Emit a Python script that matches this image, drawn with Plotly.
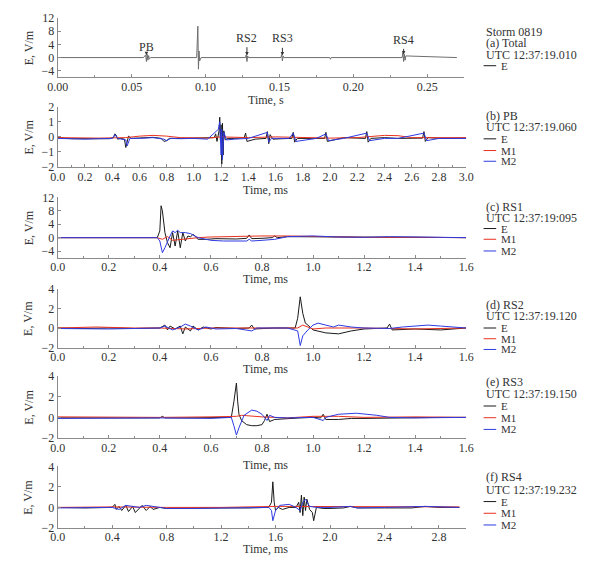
import plotly.graph_objects as go

W, H = 592, 562

# ---------------- DATA ----------------
a_t = [0.0, 0.058, 0.0595, 0.060, 0.0605, 0.061, 0.0615, 0.062, 0.063, 0.094,
       0.0948, 0.0952, 0.0956, 0.096, 0.097, 0.127, 0.1275, 0.128, 0.1285, 0.129,
       0.151, 0.1515, 0.152, 0.1525, 0.153, 0.184, 0.1845, 0.185, 0.233, 0.2335,
       0.234, 0.2345, 0.235, 0.2355, 0.27]
a_E = [0, 0, 0.8, -1.2, 1.0, -0.8, 0.6, -0.4, 0, 0,
       9.5, -3.5, 2, -1, 0, 0, 0.8, -1.2, 0.5, 0,
       0, 0.9, -1.0, 0.5, 0, 0, -0.5, 0, 0, 1.5,
       -1.2, 1.0, -0.8, 0.5, 0]
a_marks = ["PB", "RS1", "RS2", "RS3", "RS4"]
a_mark_t = [0.060, 0.095, 0.128, 0.152, 0.234]

b_tE = [0, 0.05, 0.1, 0.2, 0.3, 0.38, 0.41, 0.42, 0.43, 0.44,
        0.46, 0.49, 0.50, 0.51, 0.52, 0.54, 0.6, 0.7, 0.76, 0.78,
        0.80, 0.82, 0.9, 1.0, 1.1, 1.15, 1.16, 1.17, 1.185, 1.19,
        1.195, 1.20, 1.205, 1.21, 1.215, 1.22, 1.23, 1.25, 1.3, 1.37,
        1.38, 1.39, 1.45, 1.53, 1.54, 1.55, 1.56, 1.58, 1.65, 1.72,
        1.73, 1.74, 1.76, 1.85, 1.96, 1.97, 1.98, 2.1, 2.2, 2.26,
        2.27, 2.28, 2.3, 2.4, 2.5, 2.6, 2.68, 2.69, 2.70, 2.72,
        2.8, 2.9, 3.0]
b_E = [-0.05, -0.1, -0.12, -0.12, -0.1, -0.12, -0.05, 0.2, 0.1, -0.15,
       -0.1, -0.15, -0.7, -0.4, 0.05, -0.1, -0.08, -0.03, -0.1, -0.3,
       -0.25, -0.1, -0.1, -0.08, -0.1, -0.05, 0.2, -0.3, 0.4, 1.3,
       -0.2, 0.8, -1.8, 0.9, -1.2, 0.4, -0.2, -0.1, -0.1, -0.05,
       0.25, -0.3, -0.15, -0.1, 0.35, -0.45, 0.15, -0.15, -0.12, -0.1,
       0.3, -0.35, -0.1, -0.08, -0.1, 0.3, -0.3, -0.05, -0.08, -0.1,
       0.35, -0.35, -0.1, -0.05, -0.1, -0.1, -0.08, 0.35, -0.3, -0.05,
       -0.1, -0.1, -0.08]
b_tM1 = [0, 0.3, 0.5, 0.6, 0.7, 0.8, 0.9, 1.1, 1.2, 1.4,
         1.6, 1.8, 2.0, 2.2, 2.4, 2.5, 2.6, 2.8, 3.0]
b_M1 = [-0.05, -0.08, -0.05, 0.05, 0.1, 0.05, -0.05, -0.08, 0.0, -0.05,
        0.0, -0.05, -0.08, -0.05, 0.1, 0.08, -0.05, -0.05, -0.05]
b_tM2 = [0, 0.1, 0.2, 0.3, 0.4, 0.42, 0.44, 0.5, 0.51, 0.53,
         0.6, 0.7, 0.78, 0.8, 0.83, 0.9, 1.0, 1.1, 1.18, 1.19,
         1.2, 1.205, 1.21, 1.22, 1.24, 1.3, 1.4, 1.54, 1.55, 1.57,
         1.7, 1.73, 1.75, 1.9, 1.97, 1.99, 2.1, 2.27, 2.29, 2.4,
         2.5, 2.69, 2.71, 2.8, 3.0]
b_M2 = [-0.1, -0.15, -0.15, -0.12, -0.1, 0.15, -0.1, -0.2, -0.6, -0.1,
        -0.1, -0.05, -0.15, -0.25, -0.1, -0.12, -0.1, -0.15, 0.5, 1.0,
        -1.2, 0.5, -1.5, 0.3, -0.2, -0.15, -0.1, 0.3, -0.35, -0.1,
        -0.1, 0.25, -0.3, -0.1, 0.2, -0.25, -0.1, 0.25, -0.25, -0.1,
        -0.1, 0.25, -0.25, -0.1, -0.1]

c_tE = [0, 0.39, 0.40, 0.405, 0.41, 0.42, 0.43, 0.44, 0.45, 0.46,
        0.47, 0.48, 0.49, 0.50, 0.51, 0.52, 0.53, 0.55, 0.58, 0.62,
        0.7, 0.74, 0.75, 0.76, 0.8, 0.84, 0.85, 0.86, 0.9, 1.0,
        1.1, 1.2, 1.3, 1.4, 1.5, 1.6]
c_E = [0, 0, 2, 9.5, 8, 1.5, -1.5, -3, 1.5, -2.5,
       2, -3, 1.5, -1, 0.5, 0.2, 1, -0.5, -0.5, -0.3,
       -0.4, -0.2, 0.8, -0.3, -0.2, 0, 0.5, 0, 0.3, 0.2,
       0.1, 0, 0.1, 0.1, 0.1, 0]
c_tM1 = [0, 0.39, 0.41, 0.43, 0.45, 0.5, 0.55, 0.6, 0.7, 0.8, 0.9, 1.0, 1.2, 1.4, 1.6]
c_M1 = [0, 0, -0.5, 0.3, -0.8, -0.3, 0, 0.2, 0.4, 0.5, 0.5, 0.3, 0.1, 0.1, 0]
c_tM2 = [0, 0.39, 0.40, 0.41, 0.42, 0.43, 0.44, 0.45, 0.46, 0.47,
         0.48, 0.5, 0.52, 0.55, 0.6, 0.65, 0.7, 0.74, 0.75, 0.76,
         0.8, 0.85, 0.9, 0.95, 1.0, 1.1, 1.2, 1.3, 1.4, 1.5, 1.6]
c_M2 = [0, 0, -1, -4.5, -3, -1, 0.5, 2, 1.5, 2.2,
        1.5, 1.5, 1.2, 0, -0.8, -1.0, -1.0, -1.0, -0.5, -1.0,
        -0.8, -0.5, 0.3, 0.5, 0.5, 0.2, 0.1, 0.3, 0.2, 0.2, 0]

d_tE = [0, 0.1, 0.2, 0.3, 0.4, 0.42, 0.43, 0.44, 0.46, 0.48,
        0.49, 0.50, 0.52, 0.53, 0.55, 0.57, 0.6, 0.62, 0.7, 0.75,
        0.76, 0.77, 0.85, 0.93, 0.94, 0.95, 0.96, 0.97, 0.98, 1.0,
        1.05, 1.1, 1.15, 1.2, 1.29, 1.3, 1.31, 1.4, 1.5, 1.6]
d_E = [0, -0.05, 0, -0.05, 0, 0.3, -0.2, 0.2, -0.1, 0.2,
       -0.6, 0.1, -0.3, 0.2, -0.2, 0.1, -0.1, 0.05, -0.05, 0,
       0.3, -0.1, 0, 0, 1.0, 3.2, 1.5, 0.5, 0.3, -0.2,
       -0.5, -0.6, -0.3, -0.1, 0, 0.4, -0.2, -0.1, -0.2, 0]
d_tM1 = [0, 0.1, 0.15, 0.3, 0.4, 0.5, 0.6, 0.8, 0.94, 0.96, 1.0, 1.05, 1.2, 1.4, 1.6]
d_M1 = [0, 0.05, 0.1, 0, 0, -0.1, 0, 0, 0, 0.3, -0.1, 0.0, 0, -0.1, 0]
d_tM2 = [0, 0.2, 0.4, 0.42, 0.45, 0.48, 0.5, 0.52, 0.55, 0.58,
         0.62, 0.7, 0.76, 0.78, 0.9, 0.94, 0.95, 0.96, 0.98, 1.0,
         1.02, 1.05, 1.08, 1.1, 1.15, 1.2, 1.3, 1.35, 1.45, 1.5, 1.6]
d_M2 = [-0.05, -0.1, 0, 0.2, -0.2, 0.1, 0.4, 0.2, -0.2, 0.1,
        -0.1, -0.05, -0.3, 0, 0, -0.3, -1.8, -0.8, -0.2, 0.3,
        0.5, 0.3, 0.1, 0.3, 0.1, 0, -0.05, 0.1, 0.3, 0.2, 0]

e_tE = [0, 0.1, 0.2, 0.3, 0.4, 0.41, 0.42, 0.5, 0.6, 0.68,
        0.69, 0.70, 0.705, 0.71, 0.72, 0.74, 0.76, 0.78, 0.8, 0.81,
        0.82, 0.83, 0.85, 0.9, 0.95, 1.0, 1.03, 1.04, 1.05, 1.1,
        1.15, 1.2, 1.3, 1.4, 1.5, 1.6]
e_E = [-0.05, -0.05, 0, 0, -0.05, 0.1, -0.05, -0.05, 0, 0,
       1.5, 3.3, 1.5, 0.3, -0.3, -0.7, -0.8, -0.8, -0.7, -0.3,
       0.3, -0.4, -0.2, -0.1, -0.05, 0, -0.05, 0.3, -0.2, -0.2,
       -0.1, -0.1, -0.05, 0, 0, 0]
e_tM1 = [0, 0.2, 0.4, 0.6, 0.7, 0.72, 0.8, 0.9, 1.0, 1.1, 1.2, 1.4, 1.6]
e_M1 = [0.05, 0, 0, 0.05, 0.1, 0.2, 0.05, -0.05, 0.1, 0.1, 0, 0.05, 0]
e_tM2 = [0, 0.2, 0.4, 0.6, 0.68, 0.69, 0.70, 0.71, 0.73, 0.76,
         0.78, 0.8, 0.82, 0.83, 0.85, 0.9, 1.0, 1.04, 1.05, 1.1,
         1.17, 1.25, 1.3, 1.4, 1.6]
e_M2 = [-0.1, -0.05, -0.05, -0.1, 0, -0.8, -1.7, -1.0, 0.2, 0.7,
        0.6, 0.3, -0.3, 0.2, 0, -0.05, 0, -0.3, 0, 0.3,
        0.4, 0.2, 0, -0.05, 0]

f_tE = [0, 0.2, 0.4, 0.42, 0.43, 0.45, 0.47, 0.5, 0.52, 0.55,
        0.57, 0.6, 0.62, 0.65, 0.68, 0.7, 0.75, 0.8, 1.0, 1.2,
        1.4, 1.55, 1.57, 1.58, 1.59, 1.6, 1.62, 1.65, 1.7, 1.75,
        1.77, 1.78, 1.79, 1.80, 1.81, 1.82, 1.83, 1.85, 1.87, 1.88,
        1.9, 1.95, 2.0, 2.1, 2.15, 2.2, 2.4, 2.6, 2.7, 2.8, 2.95]
f_E = [0, -0.05, 0, 0.3, -0.2, 0.1, -0.3, 0.2, -0.4, 0.1,
       -0.5, -0.1, 0.2, -0.3, 0.1, -0.2, 0, -0.1, -0.05, -0.05,
       -0.05, 0, 0.5, 2.5, 0.5, -0.3, 0, -0.2, 0, 0,
       0.5, -0.5, 1.2, -0.8, 1.0, -0.3, 0.8, -0.2, -0.5, -1.3,
       0, -0.1, -0.1, -0.05, 0.1, -0.05, -0.05, -0.05, 0.1, 0, 0]
f_tM1 = [0, 0.4, 0.8, 1.2, 1.6, 1.8, 2.0, 2.4, 2.8, 2.95]
f_M1 = [0, 0.05, 0, 0, 0.1, 0.1, 0.05, 0.05, 0.1, 0.05]
f_tM2 = [0, 0.3, 0.4, 0.45, 0.5, 0.6, 0.65, 0.7, 0.8, 1.0,
         1.2, 1.4, 1.55, 1.57, 1.58, 1.6, 1.63, 1.7, 1.75, 1.78,
         1.8, 1.82, 1.85, 1.9, 2.0, 2.15, 2.2, 2.4, 2.7, 2.95]
f_M2 = [-0.05, -0.05, 0, -0.2, 0.2, 0, 0.2, 0.1, -0.1, -0.1,
        -0.05, -0.05, 0, -0.3, -1.3, -0.3, 0.2, 0.3, 0, -0.3,
        0.5, 0.8, 0.1, 0, 0, 0.1, -0.05, 0, 0.1, 0]

panel_titles = ["(a) Total", "(b) PB", "(c) RS1", "(d) RS2", "(e) RS3", "(f) RS4"]
panel_utc = ["UTC 12:37:19.010", "UTC 12:37:19.060", "UTC 12:37:19:095",
             "UTC 12:37:19.120", "UTC 12:37:19.150", "UTC 12:37:19.232"]
series_names = ["E", "M1", "M2"]
storm_label = "Storm 0819"

# ---------------- STYLE / LAYOUT ----------------
C_E, C_M1, C_M2 = "#1a1a1a", "#e8321e", "#2f3be0"
C_TOTAL = "#6e6e6e"
FONT = "Liberation Serif"
TXT = "#333333"
AX = "#8a8a8a"
OFF = 8  # page body margin offset (screen px)

def px(x):
    return (x - OFF) / W

def py(y):
    return 1 - (y - OFF) / H

x_left, x_right = 48, 470
panels_px = [(11, 72), (102, 164), (195, 257), (289, 349), (378, 442), (471, 534)]
xranges = [[0, 0.275], [0, 3.0], [0, 1.6], [0, 1.6], [0, 1.6], [0, 3.0]]
yranges = [[-6, 12], [-2, 2], [-6, 12], [-2, 4], [-2, 4], [-2, 4]]
ydticks = [4, 1, 4, 2, 2, 2]
xdticks = [0.05, 0.2, 0.2, 0.2, 0.2, 0.4]
xfmt = [".2f", ".1f", ".1f", ".1f", ".1f", ".1f"]
xtitles = ["Time, s"] + ["Time, ms"] * 5
xtitle_y = [95, 187, 279, 371, 469, 556]

fig = go.Figure()

data_sets = [
    [(a_t, a_E, C_TOTAL)],
    [(b_tE, b_E, C_E), (b_tM1, b_M1, C_M1), (b_tM2, b_M2, C_M2)],
    [(c_tE, c_E, C_E), (c_tM1, c_M1, C_M1), (c_tM2, c_M2, C_M2)],
    [(d_tE, d_E, C_E), (d_tM1, d_M1, C_M1), (d_tM2, d_M2, C_M2)],
    [(e_tE, e_E, C_E), (e_tM1, e_M1, C_M1), (e_tM2, e_M2, C_M2)],
    [(f_tE, f_E, C_E), (f_tM1, f_M1, C_M1), (f_tM2, f_M2, C_M2)],
]

for i, ds in enumerate(data_sets):
    suf = "" if i == 0 else str(i + 1)
    for (t, v, col) in ds:
        assert len(t) == len(v)
        fig.add_trace(go.Scatter(x=t, y=v, mode="lines",
                                 line=dict(color=col, width=1),
                                 xaxis="x" + suf, yaxis="y" + suf,
                                 showlegend=False, hoverinfo="skip"))

layout = dict(width=W, height=H, margin=dict(l=0, r=0, t=0, b=0),
              paper_bgcolor="white", plot_bgcolor="white", showlegend=False,
              font=dict(family=FONT, size=12, color=TXT))

annotations = []
shapes = []

for i in range(6):
    suf = "" if i == 0 else str(i + 1)
    top, bot = panels_px[i]
    layout["xaxis" + suf] = dict(
        domain=[px(x_left), px(x_right if i else 468)], anchor="y" + suf,
        range=xranges[i], dtick=xdticks[i], tick0=0, tickformat=xfmt[i],
        showline=True, linecolor=AX, linewidth=1, ticks="inside", ticklen=3,
        tickcolor=AX, showgrid=False, zeroline=False, ticklabelstandoff=-2,
        minor=dict(ticks="inside", ticklen=2, tickcolor=AX, dtick=xdticks[i] / 2, showgrid=False),
        tickfont=dict(family=FONT, size=12, color=TXT))
    layout["yaxis" + suf] = dict(
        domain=[py(bot), py(top)], anchor="x" + suf,
        range=yranges[i], dtick=ydticks[i], tick0=0,
        showline=True, linecolor=AX, linewidth=1, ticks="inside", ticklen=3,
        tickcolor=AX, showgrid=False, zeroline=False,
        tickfont=dict(family=FONT, size=12, color=TXT))
    annotations.append(dict(text=xtitles[i], x=px((x_left + x_right) / 2 + 4), y=py(xtitle_y[i]),
                            xref="paper", yref="paper", xanchor="center", yanchor="middle",
                            showarrow=False, font=dict(family=FONT, size=12, color=TXT)))
    annotations.append(dict(text="E, V/m", x=px(18), y=py((top + bot) / 2),
                            xref="paper", yref="paper", xanchor="center", yanchor="middle",
                            showarrow=False, textangle=-90,
                            font=dict(family=FONT, size=12, color=TXT)))

lx = 488
legend_rows = [
    (25, storm_label, None), (37, panel_titles[0], None), (49, panel_utc[0], None), (60, series_names[0], C_E),
    (112, panel_titles[1], None), (123, panel_utc[1], None), (135, series_names[0], C_E), (147, series_names[1], C_M1), (158, series_names[2], C_M2),
    (205, panel_titles[2], None), (216, panel_utc[2], None), (227, series_names[0], C_E), (238, series_names[1], C_M1), (250, series_names[2], C_M2),
    (305, panel_titles[3], None), (317, panel_utc[3], None), (329, series_names[0], C_E), (340, series_names[1], C_M1), (351, series_names[2], C_M2),
    (384, panel_titles[4], None), (397, panel_utc[4], None), (409, series_names[0], C_E), (421, series_names[1], C_M1), (433, series_names[2], C_M2),
    (482, panel_titles[5], None), (495, panel_utc[5], None), (507, series_names[0], C_E), (519, series_names[1], C_M1), (531, series_names[2], C_M2),
]
for (yy, txt, col) in legend_rows:
    if col is None:
        annotations.append(dict(text=txt, x=px(lx), y=py(yy), xref="paper", yref="paper",
                                xanchor="left", yanchor="middle", showarrow=False,
                                font=dict(family=FONT, size=12, color=TXT)))
    else:
        shapes.append(dict(type="line", xref="paper", yref="paper",
                           x0=px(lx), x1=px(lx + 13), y0=py(yy), y1=py(yy),
                           line=dict(color=col, width=1)))
        annotations.append(dict(text=txt, x=px(lx + 16), y=py(yy), xref="paper", yref="paper",
                                xanchor="left", yanchor="middle", showarrow=False,
                                font=dict(family=FONT, size=11, color=TXT)))

label_y = [3.3, 12.3, 6.0, 5.8, 5.3]
arrow_from = [2.0, None, 3.6, 3.4, 3.1]
arrow_to = [0.7, None, 0.6, 0.6, 0.9]
for k, name in enumerate(a_marks):
    annotations.append(dict(text=name, x=a_mark_t[k], y=label_y[k], xref="x", yref="y",
                            xanchor="center", yanchor="middle",
                            showarrow=False, font=dict(family=FONT, size=12, color=TXT)))
    if arrow_from[k] is not None:
        annotations.append(dict(text="", x=a_mark_t[k], y=arrow_to[k], ax=a_mark_t[k], ay=arrow_from[k],
                                xref="x", yref="y", axref="x", ayref="y", showarrow=True,
                                arrowhead=2, arrowsize=0.7, arrowwidth=1, arrowcolor="#333"))

layout["annotations"] = annotations
layout["shapes"] = shapes
fig.update_layout(**layout)

fig.write_html("out.html")
